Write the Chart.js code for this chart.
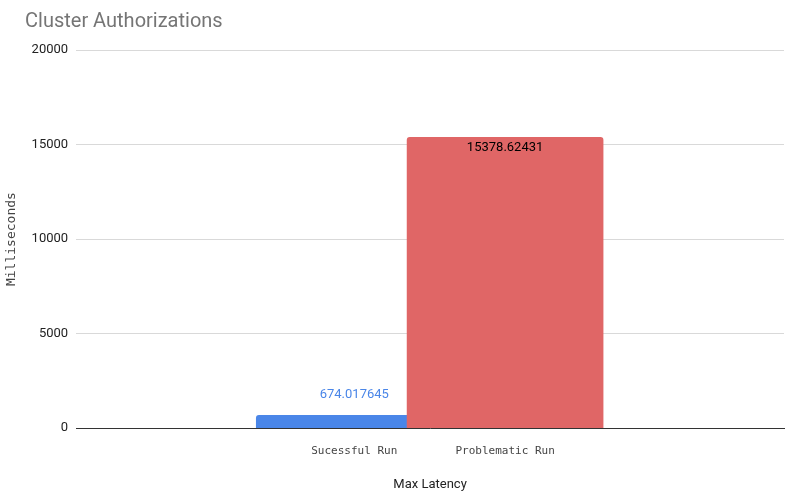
<!DOCTYPE html>
<html><head><meta charset="utf-8">
<script src="https://cdn.jsdelivr.net/npm/chart.js@4"></script>
<style>body{margin:0;background:#fff}#w{width:800px;height:503px}</style>
</head><body><div id="w"><canvas id="c"></canvas></div>
<script>
const categories = ['Sucessful Run', 'Problematic Run'];
const values = [674.017645, 15378.62431];
const colors = ['#4a86e8', '#e06666'];
const yTicks = [0, 5000, 10000, 15000, 20000];

const fixPlugin = {
  id: 'fix',
  afterDatasetsUpdate(chart) {
    const xs = chart.scales.x;
    chart.getDatasetMeta(0).data.forEach((el, i) => {
      el.x = xs.getPixelForValue(i);
      el.width = 196;
    });
  },
  afterDraw(chart) {
    const ctx = chart.ctx;
    ctx.save();
    ctx.font = '20px Roboto, Arial, sans-serif';
    ctx.fillStyle = '#757575';
    ctx.textBaseline = 'alphabetic';
    ctx.textAlign = 'left';
    ctx.fillText('Cluster Authorizations', 25, 27);
    ctx.restore();
  },
  afterDatasetsDraw(chart) {
    const ctx = chart.ctx;
    const meta = chart.getDatasetMeta(0);
    ctx.save();
    ctx.font = '13px Roboto, Arial, sans-serif';
    ctx.textAlign = 'center';
    meta.data.forEach((el, i) => {
      const v = values[i];
      if (i === 0) {
        ctx.fillStyle = colors[0];
        ctx.textBaseline = 'bottom';
        ctx.fillText(String(v), el.x, el.y - 14);
      } else {
        ctx.fillStyle = '#000';
        ctx.textBaseline = 'top';
        ctx.fillText(String(v), el.x, el.y + 4);
      }
    });
    ctx.restore();
  }
};

new Chart(document.getElementById('c'), {
  type: 'bar',
  data: {
    datasets: [{
      data: values.map((v, i) => ({x: i, y: v})),
      backgroundColor: colors,
      barThickness: 196,
      borderRadius: {topLeft: 3, topRight: 3},
      borderSkipped: 'bottom'
    }]
  },
  options: {
    responsive: true, maintainAspectRatio: false, animation: false,
    layout: {padding: {left: 0, right: 16, top: 50, bottom: 6}},
    plugins: {legend: {display: false}, tooltip: {enabled: false}, title: {display: false}},
    scales: {
      x: {
        type: 'linear', min: -0.671, max: 1.676,
        afterBuildTicks: ax => { ax.ticks = [{value: 0}, {value: 1}]; },
        ticks: {callback: v => categories[v], color: '#444',
          font: {family: 'DejaVu Sans Mono, monospace', size: 11}, maxRotation: 0, padding: 8},
        grid: {display: false},
        border: {color: '#333'},
        title: {display: true, text: 'Max Latency', color: '#222',
          font: {family: 'Roboto, Arial, sans-serif', size: 13}, padding: {top: 12}}
      },
      y: {
        min: 0, max: 20000,
        afterBuildTicks: ax => { ax.ticks = yTicks.map(v => ({value: v})); },
        ticks: {callback: v => String(v), color: '#222', font: {family: 'Roboto, Arial, sans-serif', size: 13}, padding: 8},
        grid: {color: '#d9d9d9', drawTicks: false},
        border: {display: false},
        title: {display: true, text: 'Milliseconds', color: '#444',
          font: {family: 'DejaVu Sans Mono, monospace', size: 13}}
      }
    }
  },
  plugins: [fixPlugin]
});
</script></body></html>
